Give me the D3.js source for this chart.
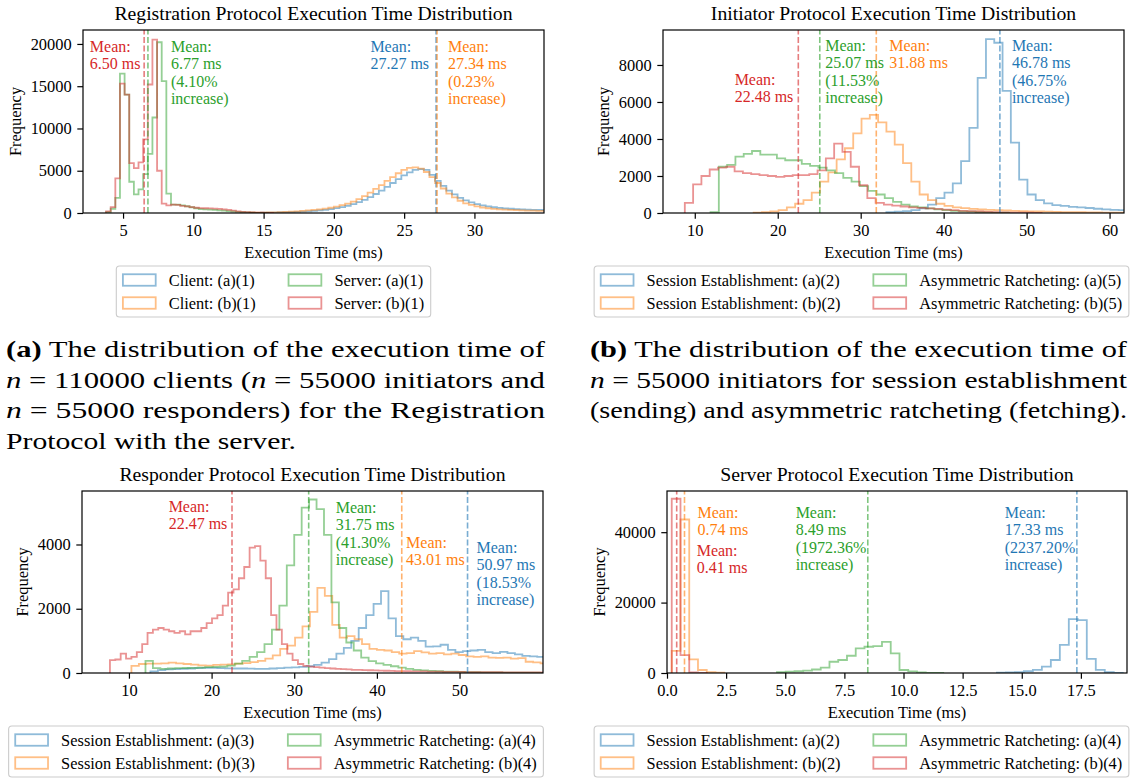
<!DOCTYPE html>
<html><head><meta charset="utf-8">
<script src="https://cdn.jsdelivr.net/npm/d3@7"></script>
<style>
body{margin:0;background:#fff}
svg{display:block}
svg text{font-family:"Liberation Serif","Times New Roman",Times,serif !important}
</style>
</head><body>
<svg id="c" width="1130" height="778"></svg>
<script>
// ---------------- DATA ----------------
// (a) Registration protocol
const regTitle = "Registration Protocol Execution Time Distribution";
const regLabels = ["Client: (a)(1)", "Client: (b)(1)", "Server: (a)(1)", "Server: (b)(1)"];
const regMeans = [27.27, 27.34, 6.77, 6.50];
const regNotes = [["Mean:", "27.27 ms"], ["Mean:", "27.34 ms", "(0.23%", "increase)"], ["Mean:", "6.77 ms", "(4.10%", "increase)"], ["Mean:", "6.50 ms"]];
const regClientStart = 14.0, regClientBin = 0.4;
const regClientA = [20,25,30,40,50,65,80,100,125,155,190,240,300,370,460,570,700,860,1050,1280,1550,1880,2250,2650,3100,3550,4000,4450,4800,5100,5200,5100,4500,3800,3200,2650,2200,1800,1500,1250,1050,900,780,680,610,550,500,460,430,400,380,360,340];
const regClientB = [30,40,50,60,80,100,130,160,200,250,300,360,430,510,620,760,920,1100,1350,1650,2000,2400,2850,3300,3800,4250,4700,5100,5350,5400,5250,4850,4250,3550,2900,2300,1850,1450,1150,950,780,650,560,490,440,400,360,330,310,290,270,260,250];
const regServerStart = 3.79, regServerBin = 0.33;
const regServerA = [100,500,1800,16500,14000,3700,2200,2800,4600,7000,11300,20200,15600,2300,1000,1000,900,800,680,560,470,420,390,360,320,280,230,180,130,90,60,40,25,15,10];
const regServerB = [200,700,4100,15300,14000,5900,5300,6000,8700,15200,20500,5000,1100,900,1000,950,850,780,700,620,580,560,540,520,480,430,360,280,200,140,90,60,40,30,20,10];
const regXTicks = [5,10,15,20,25,30];
const regYTicks = [0,5000,10000,15000,20000];
const regXDomain = [2.15, 34.95];
const regYMax = 21650;

// (b) Initiator protocol
const initTitle = "Initiator Protocol Execution Time Distribution";
const initLabels = ["Session Establishment: (a)(2)", "Session Establishment: (b)(2)", "Asymmetric Ratcheting: (a)(5)", "Asymmetric Ratcheting: (b)(5)"];
const initMeans = [46.78, 31.88, 25.07, 22.48];
const initNotes = [["Mean:", "46.78 ms", "(46.75%", "increase)"], ["Mean:", "31.88 ms"], ["Mean:", "25.07 ms", "(11.53%", "increase)"], ["Mean:", "22.48 ms"]];
const initStarts = [33.1, 17.1, 11.9, 8.8];
const initBin = 1.0;
const initSEA = [40,70,100,150,250,450,800,1100,1600,2800,4600,7300,9400,9200,6600,3800,1800,1000,700,520,430,380,330,300,270,230,200,170,150];
const initSEB = [20,40,80,150,300,500,700,1100,1700,2200,2900,3500,4300,5100,5300,4900,4400,3700,2700,1700,1000,700,500,380,300,260,220,190,170,150,140,120,100,90,80,70,60,50,45,40,35,30,25,20,15];
const initARA = [50,2500,2600,3050,3200,3350,3150,3150,2950,2850,2850,2650,2550,2450,2300,2150,1900,1700,1450,1200,1000,800,600,450,350,300,250,200,150,120,90,70,50,35,25,15];
const initARB = [550,1550,2000,2350,2450,2500,2250,2150,2100,2050,2000,1950,2000,2050,2050,2100,2300,2950,3750,3300,2500,1500,800,550,450,400,350,300,280,250,220,180,150,120,100,80,60,45,35,25,20,15,10];
const initXTicks = [10,20,30,40,50,60];
const initYTicks = [0,2000,4000,6000,8000];
const initXDomain = [6.17, 61.74];
const initYMax = 9890;

// (c) Responder protocol
const respTitle = "Responder Protocol Execution Time Distribution";
const respLabels = ["Session Establishment: (a)(3)", "Session Establishment: (b)(3)", "Asymmetric Ratcheting: (a)(4)", "Asymmetric Ratcheting: (b)(4)"];
const respMeans = [50.97, 43.01, 31.75, 22.47];
const respNotes = [["Mean:", "50.97 ms", "(18.53%", "increase)"], ["Mean:", "43.01 ms"], ["Mean:", "31.75 ms", "(41.30%", "increase)"], ["Mean:", "22.47 ms"]];
const respStarts = [12.6, 10.3, 12.0, 7.7];
const respBins = [0.9, 0.9, 0.9, 0.65];
const respSEA = [50,90,110,120,130,140,150,160,160,150,145,140,140,135,130,130,140,150,165,175,190,210,250,320,430,600,780,1000,1400,1800,2150,2550,1700,1150,1050,1100,1000,820,830,880,720,650,680,700,720,650,620,660,620,580,530,520,500];
const respSEB = [220,280,290,290,300,320,300,280,260,240,230,250,260,270,290,310,340,380,450,550,750,850,1100,1450,1900,2650,2400,1500,1100,1150,1050,900,750,720,700,650,600,620,680,640,600,620,580,600,560,520,500,520,480,470,480,450,460,350,330,300];
const respARA = [380,150,130,140,150,155,160,170,180,190,200,230,290,380,500,650,900,1350,2100,3350,4300,5150,5400,5100,4300,2200,1400,950,700,480,370,300,250,210,170,130,100,80,65,55,45,40,35,30,26,22,19,16,14,12,10,9,8,7];
const respARB = [400,420,600,450,500,650,900,1250,1350,1400,1350,1300,1250,1300,1200,1300,1300,1400,1550,1700,1800,2100,2500,2600,2950,3300,3900,3950,3500,2950,1800,1350,900,600,400,280,220,200,180,170,150,140,130,120,110,100,95,90,85,80,75,70,65,60,58,55,52,50,48,45,43,40,38,36,34,32,30,28,27,26,25,24,23,22,21,20,19,18,17,16,15,14];
const respXTicks = [10,20,30,40,50];
const respYTicks = [0,2000,4000];
const respXDomain = [4.32, 60.1];
const respYMax = 5665;

// (d) Server protocol
const servTitle = "Server Protocol Execution Time Distribution";
const servLabels = ["Session Establishment: (a)(2)", "Session Establishment: (b)(2)", "Asymmetric Ratcheting: (a)(4)", "Asymmetric Ratcheting: (b)(4)"];
const servMeans = [17.33, 0.74, 8.49, 0.41];
const servNotes = [["Mean:", "17.33 ms", "(2237.20%", "increase)"], ["Mean:", "0.74 ms"], ["Mean:", "8.49 ms", "(1972.36%", "increase)"], ["Mean:", "0.41 ms"]];
const servStarts = [13.95, 0.2, 4.65, 0.2];
const servBins = [0.38, 0.37, 0.37, 0.37];
const servSEA = [100,150,250,500,900,1800,3700,8000,15300,15000,4000,900,250,50];
const servSEB = [6300,43600,3870,850,260,80];
const servARA = [250,400,500,650,1000,1500,3200,3700,4900,7000,7450,7650,8850,5550,850,450,150,60,30];
const servARB = [49500,5100,150,40];
const servXTicks = [0,2.5,5,7.5,10,12.5,15,17.5];
const servYTicks = [0,20000,40000];
const servXDomain = [0, 19.45];
const servYMax = 51700;

const xLabelText = "Execution Time (ms)";
const yLabelText = "Frequency";

// ---------------- STYLE / LAYOUT ----------------
const FONT = '"Liberation Serif","Times New Roman",Times,serif';
const COLORS = ["#1f77b4", "#ff7f0e", "#2ca02c", "#d62728"];
const FS = 16.4, TITLE_FS = 19.7, NOTE_FS = 16, NOTE_LH = 17.6;

const panels = [
  { key: "a", title: regTitle, xDomain: regXDomain, yMax: regYMax, xTicks: regXTicks, yTicks: regYTicks, xFmt: d3.format("d"),
    series: [
      { label: regLabels[0], start: regClientStart, width: regClientBin, counts: regClientA, mean: regMeans[0], note: regNotes[0] },
      { label: regLabels[1], start: regClientStart, width: regClientBin, counts: regClientB, mean: regMeans[1], note: regNotes[1] },
      { label: regLabels[2], start: regServerStart, width: regServerBin, counts: regServerA, mean: regMeans[2], note: regNotes[2] },
      { label: regLabels[3], start: regServerStart, width: regServerBin, counts: regServerB, mean: regMeans[3], note: regNotes[3] } ] },
  { key: "b", title: initTitle, xDomain: initXDomain, yMax: initYMax, xTicks: initXTicks, yTicks: initYTicks, xFmt: d3.format("d"),
    series: [initSEA, initSEB, initARA, initARB].map((c, i) => ({ label: initLabels[i], start: initStarts[i], width: initBin, counts: c, mean: initMeans[i], note: initNotes[i] })) },
  { key: "c", title: respTitle, xDomain: respXDomain, yMax: respYMax, xTicks: respXTicks, yTicks: respYTicks, xFmt: d3.format("d"),
    series: [respSEA, respSEB, respARA, respARB].map((c, i) => ({ label: respLabels[i], start: respStarts[i], width: respBins[i], counts: c, mean: respMeans[i], note: respNotes[i] })) },
  { key: "d", title: servTitle, xDomain: servXDomain, yMax: servYMax, xTicks: servXTicks, yTicks: servYTicks, xFmt: d3.format(".1f"),
    series: [servSEA, servSEB, servARA, servARB].map((c, i) => ({ label: servLabels[i], start: servStarts[i], width: servBins[i], counts: c, mean: servMeans[i], note: servNotes[i] })) }
];

const layout = {
  a: { frame: [83, 544, 30, 213], xlabelY: 258, legendCx: 273.5, legendRow: 280,
       notes: [{ side: "right", dx: 7, y: 46 }, { side: "left", dx: 11, y: 46 }, { side: "left", dx: 23, y: 46 }, { side: "right", dx: 3.6, y: 46 }] },
  b: { frame: [663, 1124, 30, 213], xlabelY: 258, legendCx: 861.5, legendRow: 280,
       notes: [{ side: "left", dx: 12, y: 45 }, { side: "left", dx: 13, y: 45 }, { side: "left", dx: 5.4, y: 45 }, { side: "right", dx: 5, y: 79 }] },
  c: { frame: [82, 543, 491, 673], xlabelY: 718, legendCx: 276, legendRow: 740,
       notes: [{ side: "left", dx: 9, y: 547 }, { side: "left", dx: 4.3, y: 542 }, { side: "left", dx: 27, y: 507 }, { side: "right", dx: 4.7, y: 506 }] },
  d: { frame: [667, 1127, 491, 673], xlabelY: 718, legendCx: 861.5, legendRow: 740,
       notes: [{ side: "right", dx: 1.5, y: 512 }, { side: "left", dx: 13, y: 512 }, { side: "right", dx: 1.5, y: 512 }, { side: "left", dx: 20, y: 550 }] }
};

const svg = d3.select("#c").attr("font-family", FONT);

function stepPoints(s) {
  const pts = [[s.start, 0]];
  s.counts.forEach((c, i) => {
    pts.push([s.start + i * s.width, c]);
    pts.push([s.start + (i + 1) * s.width, c]);
  });
  pts.push([s.start + s.counts.length * s.width, 0]);
  return pts;
}

function textWidth(str, size, weight) {
  const t = svg.append("text").attr("font-size", size).attr("font-weight", weight || "normal").text(str);
  const w = t.node().getComputedTextLength();
  t.remove();
  return w;
}

function drawPanel(P, L) {
  const [fx0, fx1, fy0, fy1] = L.frame;
  const x = d3.scaleLinear().domain(P.xDomain).range([fx0, fx1]);
  const y = d3.scaleLinear().domain([0, P.yMax]).range([fy1, fy0]);
  const g = svg.append("g");
  const clipId = "clip-" + P.key;
  svg.append("clipPath").attr("id", clipId).append("rect")
    .attr("x", fx0).attr("y", fy0 - 1).attr("width", fx1 - fx0).attr("height", fy1 - fy0 + 1);
  const plot = g.append("g").attr("clip-path", `url(#${clipId})`);
  const line = d3.line().x(d => x(d[0])).y(d => y(d[1]));
  P.series.forEach((s, i) => {
    plot.append("path").attr("d", line(stepPoints(s))).attr("fill", "none")
      .attr("stroke", COLORS[i]).attr("stroke-opacity", 0.5).attr("stroke-width", 1.8);
  });
  P.series.forEach((s, i) => {
    plot.append("line").attr("x1", x(s.mean)).attr("x2", x(s.mean)).attr("y1", fy1).attr("y2", fy0)
      .attr("stroke", COLORS[i]).attr("stroke-opacity", 0.6).attr("stroke-width", 1.6).attr("stroke-dasharray", "5.9,2.6");
  });
  // annotations
  P.series.forEach((s, i) => {
    const N = L.notes[i];
    const maxW = d3.max(s.note, t => textWidth(t, NOTE_FS));
    const lx = N.side === "left" ? x(s.mean) + N.dx : x(s.mean) - N.dx - maxW;
    const t = g.append("text").attr("font-size", NOTE_FS).attr("fill", COLORS[i]);
    s.note.forEach((ln, k) => {
      t.append("tspan").attr("x", lx).attr("y", N.y + 5.6 + k * NOTE_LH).text(ln);
    });
  });
  // axes
  const xa = g.append("g").attr("transform", `translate(0,${fy1})`)
    .call(d3.axisBottom(x).tickValues(P.xTicks).tickFormat(P.xFmt).tickSize(5.7).tickPadding(5.7));
  xa.select(".domain").remove();
  xa.attr("font-family", FONT).attr("font-size", FS);
  xa.selectAll("line").attr("stroke", "#000").attr("stroke-width", 1.2);
  xa.selectAll("text").attr("fill", "#000");
  const ya = g.append("g").attr("transform", `translate(${fx0},0)`)
    .call(d3.axisLeft(y).tickValues(P.yTicks).tickFormat(d3.format("d")).tickSize(5.7).tickPadding(5.7));
  ya.select(".domain").remove();
  ya.attr("font-family", FONT).attr("font-size", FS);
  ya.selectAll("line").attr("stroke", "#000").attr("stroke-width", 1.2);
  ya.selectAll("text").attr("fill", "#000");
  // frame
  g.append("rect").attr("x", fx0).attr("y", fy0).attr("width", fx1 - fx0).attr("height", fy1 - fy0)
    .attr("fill", "none").attr("stroke", "#000").attr("stroke-width", 1.2);
  // title
  g.append("text").attr("x", (fx0 + fx1) / 2).attr("y", fy0 - 9.8).attr("text-anchor", "middle")
    .attr("font-size", TITLE_FS).text(P.title);
  // x label
  g.append("text").attr("x", (fx0 + fx1) / 2).attr("y", L.xlabelY).attr("text-anchor", "middle")
    .attr("font-size", FS).text(xLabelText);
  // y label (bbox is in the axis group's own coordinates)
  const bb = ya.node().getBBox();
  const ylx = fx0 + bb.x - 6.5 - 3.6;
  g.append("text").attr("transform", `translate(${ylx},${(fy0 + fy1) / 2}) rotate(-90)`)
    .attr("text-anchor", "middle").attr("font-size", FS).text(yLabelText);
  drawLegend(g, P, L);
}

function drawLegend(g, P, L) {
  const pad = 6.6, hl = 32.8, hh = 11.5, htp = 13.1, cs = 32.8, pitch = 23;
  const cols = [[0, 1], [2, 3]];
  const colW = cols.map(c => hl + htp + d3.max(c, i => textWidth(P.series[i].label, FS)));
  const boxW = 2 * pad + colW[0] + cs + colW[1];
  const boxH = 2 * pad + 2 * 14.8 + 8.2;
  const bx = L.legendCx - boxW / 2;
  const by = L.legendRow - 7.4 - pad;
  g.append("rect").attr("x", bx).attr("y", by).attr("width", boxW).attr("height", boxH).attr("rx", 3.3)
    .attr("fill", "#fff").attr("fill-opacity", 0.8).attr("stroke", "#cccccc").attr("stroke-width", 1.1);
  cols.forEach((c, ci) => {
    const cx = bx + pad + (ci === 0 ? 0 : colW[0] + cs);
    c.forEach((i, ri) => {
      const ry = L.legendRow + ri * pitch;
      g.append("rect").attr("x", cx).attr("y", ry - hh / 2).attr("width", hl).attr("height", hh)
        .attr("fill", "none").attr("stroke", COLORS[i]).attr("stroke-opacity", 0.5).attr("stroke-width", 1.8);
      g.append("text").attr("x", cx + hl + htp).attr("y", ry + 5.5).attr("font-size", FS).text(P.series[i].label);
    });
  });
}

panels.forEach(P => drawPanel(P, layout[P.key]));

// ---------------- CAPTIONS ----------------
const CAP_FS = 24;
const captionA = [
  [["(a)", "b"], [" The distribution of the execution time of", ""]],
  [["n", "i"], [" = 110000 clients (", ""], ["n", "i"], [" = 55000 initiators and", ""]],
  [["n", "i"], [" = 55000 responders) for the Registration", ""]],
  [["Protocol with the server.", ""]]
];
const captionB = [
  [["(b)", "b"], [" The distribution of the execution time of", ""]],
  [["n", "i"], [" = 55000 initiators for session establishment", ""]],
  [["(sending) and asymmetric ratcheting (fetching).", ""]]
];
function drawCaption(lines, x0, widths, baselines) {
  lines.forEach((ln, k) => {
    const t = svg.append("text").attr("x", x0).attr("y", baselines[k]).attr("font-size", CAP_FS)
      .attr("textLength", widths[k]).attr("lengthAdjust", "spacingAndGlyphs");
    ln.forEach(([s, st]) => {
      const sp = t.append("tspan").text(s);
      if (st === "b") sp.attr("font-weight", "bold");
      if (st === "i") sp.attr("font-style", "italic");
    });
  });
}
drawCaption(captionA, 6, [539, 539, 539, 290], [357, 387.5, 418, 448.5]);
drawCaption(captionB, 590, [537, 537, 537], [357, 387.5, 418]);
</script>
</body></html>
